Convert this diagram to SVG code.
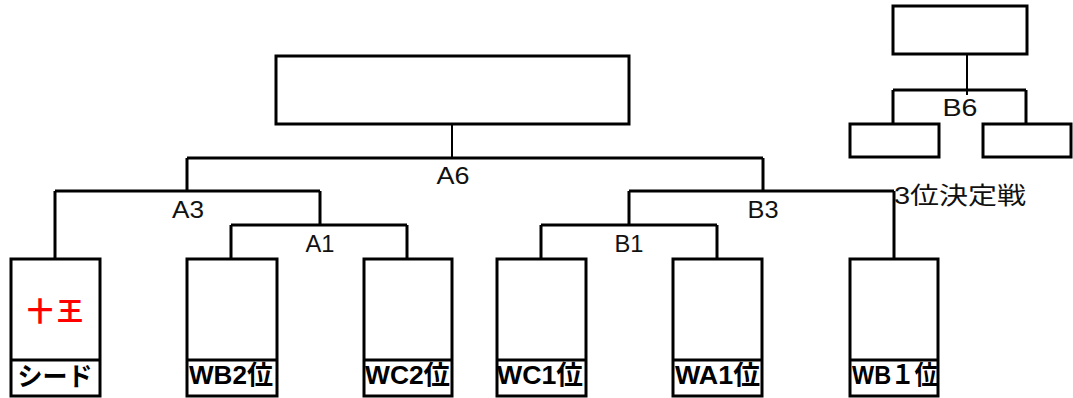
<svg xmlns="http://www.w3.org/2000/svg" width="1073" height="398" viewBox="0 0 1073 398">
<style>
.box{fill:#fff;stroke:#000;stroke-width:3}
.ln{fill:none;stroke:#000;stroke-width:3}
.thin{fill:none;stroke:#000;stroke-width:2}
.lbl{font-family:"Liberation Sans","Noto Sans CJK JP",sans-serif;font-size:24px;fill:#111;text-anchor:middle}
.leaf{font-family:"Liberation Sans","Noto Sans CJK JP",sans-serif;font-size:26px;font-weight:bold;fill:#000;text-anchor:middle}
.red{font-family:"Noto Sans CJK JP",sans-serif;font-size:26px;font-weight:bold;fill:#f00;text-anchor:middle}
</style>
<rect width="1073" height="398" fill="#fff"/>
<g id="connectors">
<path class="thin" d="M452,124 V158"/>
<path class="ln" d="M187,158 H763"/>
<path class="ln" d="M187,158 V191 M55,191 H320 M55,191 V259 M320,191 V225 M231,225 H407 M231,225 V259 M407,225 V259"/>
<path class="ln" d="M763,158 V191 M629,191 H894 M894,191 V259 M629,191 V225 M541,225 H717 M541,225 V259 M717,225 V259"/>
<path class="thin" d="M967,54 V95"/>
<path class="ln" d="M893,90 H1026 M893,90 V124 M1026,90 V124"/>
</g>
<g id="final"><rect class="box" x="276" y="56" width="353" height="68"/></g>
<g id="third-final"><rect class="box" x="893" y="6" width="134" height="48"/></g>
<g id="third-left"><rect class="box" x="850" y="124" width="89" height="33"/></g>
<g id="third-right"><rect class="box" x="983" y="124" width="88" height="33"/></g>
<g id="labels">
<text class="lbl" x="453" y="184" textLength="33" lengthAdjust="spacingAndGlyphs">A6</text>
<text class="lbl" x="188" y="218" textLength="32" lengthAdjust="spacingAndGlyphs">A3</text>
<text class="lbl" x="320" y="252" textLength="29" lengthAdjust="spacingAndGlyphs">A1</text>
<text class="lbl" x="763" y="218" textLength="31" lengthAdjust="spacingAndGlyphs">B3</text>
<text class="lbl" x="629" y="252" textLength="29" lengthAdjust="spacingAndGlyphs">B1</text>
<text class="lbl" x="960" y="116" textLength="35" lengthAdjust="spacingAndGlyphs">B6</text>
<text class="lbl" x="960" y="204" font-size="27" textLength="132" lengthAdjust="spacingAndGlyphs">3位決定戦</text>
</g>
<g id="seed">
<rect class="box" x="11" y="259" width="89" height="137"/>
<path class="ln" d="M11,360 H100"/>
<text class="red" x="55" y="321" textLength="56" lengthAdjust="spacing">十王</text>
<text class="leaf" x="55" y="386" textLength="75" lengthAdjust="spacingAndGlyphs">シード</text>
</g>
<g id="wb2">
<rect class="box" x="187" y="259" width="90" height="137"/>
<path class="ln" d="M187,360 H277"/>
<text class="leaf" x="231" y="384" textLength="84" lengthAdjust="spacingAndGlyphs">WB2位</text>
</g>
<g id="wc2">
<rect class="box" x="364" y="259" width="88" height="137"/>
<path class="ln" d="M364,360 H452"/>
<text class="leaf" x="407.5" y="384" textLength="85" lengthAdjust="spacingAndGlyphs">WC2位</text>
</g>
<g id="wc1">
<rect class="box" x="497" y="259" width="89" height="137"/>
<path class="ln" d="M497,360 H586"/>
<text class="leaf" x="540" y="384" textLength="86" lengthAdjust="spacingAndGlyphs">WC1位</text>
</g>
<g id="wa1">
<rect class="box" x="673" y="259" width="89" height="137"/>
<path class="ln" d="M673,360 H762"/>
<text class="leaf" x="717.5" y="384" textLength="85" lengthAdjust="spacingAndGlyphs">WA1位</text>
</g>
<g id="wb1">
<rect class="box" x="850" y="259" width="88" height="137"/>
<path class="ln" d="M850,360 H938"/>
<text class="leaf" x="895" y="384" textLength="86" lengthAdjust="spacingAndGlyphs">WB１位</text>
</g>
</svg>
